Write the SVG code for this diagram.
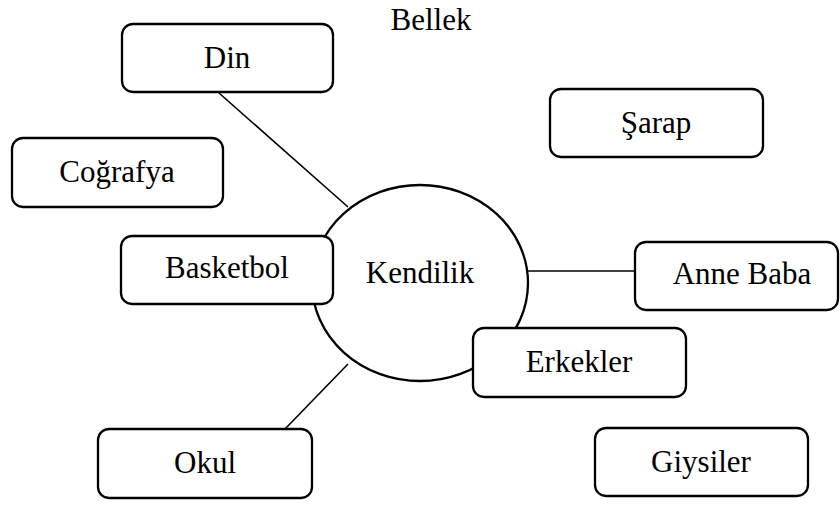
<svg xmlns="http://www.w3.org/2000/svg" width="840" height="505" viewBox="0 0 840 505">
  <style>
    .box { fill: #ffffff; stroke: #000000; stroke-width: 2.3; }
    .hub { fill: #ffffff; stroke: #000000; stroke-width: 2.3; }
    .link { stroke: #000000; stroke-width: 1.6; fill: none; }
    text { font-family: "Liberation Serif", "Times New Roman", serif; font-size: 31px; fill: #000000; text-anchor: middle; }
  </style>
  <rect width="840" height="505" fill="#ffffff"/>

  <text id="title" x="431" y="30">Bellek</text>

  <!-- connectors from the central ellipse -->
  <g id="connectors">
    <line class="link" x1="219" y1="93" x2="348" y2="207"/>
    <line class="link" x1="525" y1="271" x2="634" y2="271"/>
    <line class="link" x1="285" y1="429" x2="348" y2="364"/>
  </g>

  <g id="kendilik">
    <ellipse class="hub" cx="420" cy="283" rx="108" ry="98"/>
    <text x="420" y="283">Kendilik</text>
  </g>

  <g id="din">
    <rect class="box" x="122" y="24" width="211" height="68" rx="11"/>
    <text x="227" y="68">Din</text>
  </g>

  <g id="sarap">
    <rect class="box" x="550" y="89" width="213" height="68" rx="11"/>
    <text x="656" y="133">Şarap</text>
  </g>

  <g id="cografya">
    <rect class="box" x="12" y="138" width="211" height="69" rx="11"/>
    <text x="117" y="182">Coğrafya</text>
  </g>

  <g id="basketbol">
    <rect class="box" x="121" y="236" width="212" height="68" rx="11"/>
    <text x="227" y="278">Basketbol</text>
  </g>

  <g id="anne-baba">
    <rect class="box" x="635" y="242" width="203" height="68" rx="11"/>
    <text x="742" y="284">Anne Baba</text>
  </g>

  <g id="erkekler">
    <rect class="box" x="473" y="328" width="213" height="69" rx="11"/>
    <text x="579" y="372">Erkekler</text>
  </g>

  <g id="okul">
    <rect class="box" x="98" y="429" width="214" height="69" rx="11"/>
    <text x="205" y="473">Okul</text>
  </g>

  <g id="giysiler">
    <rect class="box" x="595" y="428" width="213" height="68" rx="11"/>
    <text x="701" y="472">Giysiler</text>
  </g>
</svg>
